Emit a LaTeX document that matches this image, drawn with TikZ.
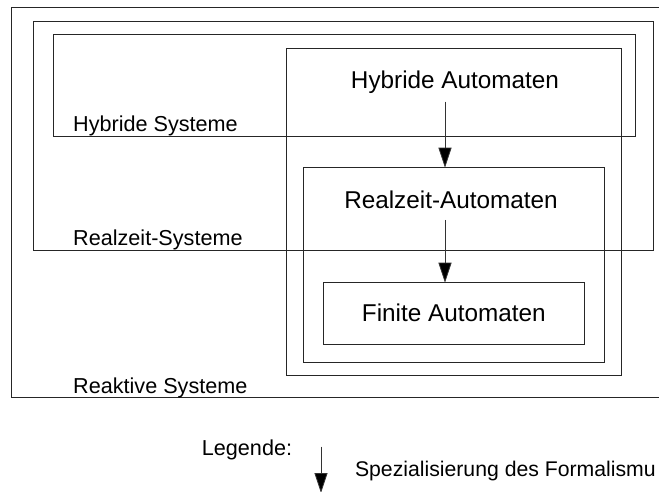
\documentclass[tikz,border=0pt]{standalone}
\usepackage{fontspec}
\setmainfont{Liberation Sans}
\usetikzlibrary{arrows.meta}
\begin{document}
\begin{tikzpicture}[x=1bp,y=-1bp,
  box/.style={draw=black!85,line width=0.8bp,rectangle,inner sep=0pt,outer sep=0pt,fill=none},
  big/.style={inner sep=0pt,font=\fontsize{24.4}{29}\selectfont},
  small/.style={inner sep=0pt,font=\fontsize{21.7}{26}\selectfont},
  legsmall/.style={inner sep=0pt,font=\fontsize{21.3}{26}\selectfont},
  spec/.style={draw=black!80,line width=0.8bp,-{Triangle[length=20bp,width=13bp,fill=black]}}]
\useasboundingbox (0,0) rectangle (659,492);
\clip (0,0) rectangle (659,492);
% boxes
\node[box,minimum width=689bp,minimum height=390bp] (reaktiv) at (355.5,202.5) {};
\node[box,minimum width=620bp,minimum height=228.8bp] (realsys) at (343,136.1) {};
\node[box,minimum width=582bp,minimum height=102.2bp] (hybsys) at (344,85.6) {};
\node[box,minimum width=335.7bp,minimum height=327.4bp] (hybaut) at (453.85,212) {};
\node[box,minimum width=301bp,minimum height=194.3bp] (realaut) at (453.5,264.85) {};
\node[box,minimum width=261bp,minimum height=62bp] (finaut) at (453.5,313.7) {};
% labels
\node[big,anchor=base] (thybaut) at (455,88.3) {Hybride Automaten};
\node[big,anchor=base] (trealaut) at (451,208.3) {Realzeit-Automaten};
\node[big,anchor=base] (tfinaut) at (453.8,321.7) {Finite Automaten};
\node[small,anchor=base west] (thybsys) at (73,131.7) {Hybride Systeme};
\node[small,anchor=base west] (trealsys) at (73,246) {Realzeit-Systeme};
\node[small,anchor=base west] (treaktiv) at (73,393) {Reaktive Systeme};
\node[small,anchor=base west] (legende) at (201.7,455) {Legende:};
\node[legsmall,anchor=base west] (legtext) at (354.8,476.7) {Spezialisierung des Formalismu};
% arrows
\coordinate (s1) at (445,101.7);
\coordinate (s2) at (445,220);
\coordinate (s3) at (321,446.7);
\coordinate (e3) at (321,493);
\draw[spec] (s1) -- (s1 |- realaut.north);
\draw[spec] (s2) -- (s2 |- finaut.north);
\draw[spec] (s3) -- (e3);
\end{tikzpicture}
\end{document}
